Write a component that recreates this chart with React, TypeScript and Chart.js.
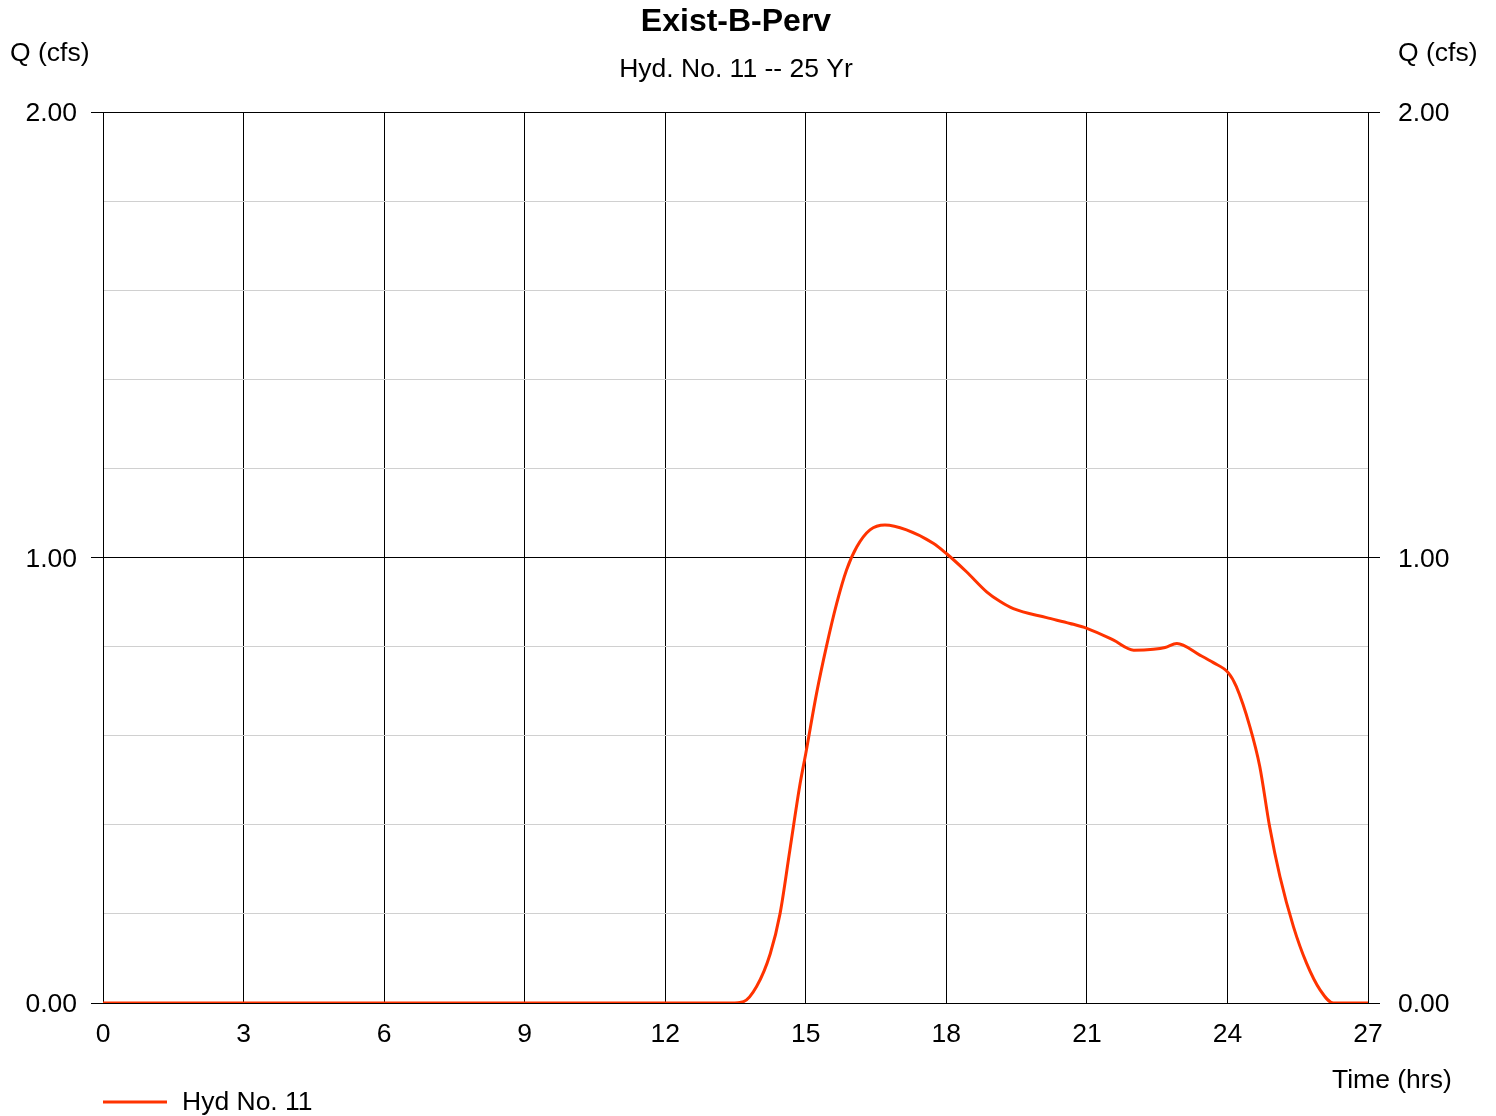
import React, { useEffect, useRef } from "react";
import { Chart, registerables } from "chart.js";

Chart.register(...registerables);

const chartTitle = "Exist-B-Perv";
const chartSubtitle = "Hyd. No. 11 -- 25 Yr";
const yAxisTitle = "Q (cfs)";
const xAxisTitle = "Time (hrs)";
const seriesLabel = "Hyd No. 11";

const timeHrs = [
  0, 13.4, 13.67, 13.95, 14.24, 14.45, 14.66, 14.88, 15.0, 15.23, 15.44, 15.66, 15.87, 16.09,
  16.37, 16.69, 17.15, 17.72, 18.0, 18.43, 18.86, 19.15, 19.43, 20.14, 20.64, 21.0, 21.56,
  22.0, 22.42, 22.67, 22.92, 23.41, 23.7, 24.02, 24.19, 24.48, 24.69, 24.9, 25.12, 25.41,
  25.69, 25.98, 26.26, 27,
];
const flowCfs = [
  0, 0, 0.003, 0.037, 0.11, 0.2, 0.343, 0.493, 0.56, 0.695, 0.8, 0.897, 0.972, 1.024,
  1.062, 1.073, 1.062, 1.032, 1.009, 0.968, 0.923, 0.901, 0.885, 0.865, 0.852, 0.841, 0.815,
  0.792, 0.794, 0.798, 0.807, 0.781, 0.764, 0.741, 0.71, 0.62, 0.531, 0.396, 0.284, 0.171,
  0.089, 0.029, 0, 0,
];

const xMin = 0;
const xMax = 27;
const xStep = 3;
const yMin = 0;
const yMax = 2;
const yStep = 0.2;

const FONT = '"Liberation Sans", Arial, Helvetica, sans-serif';
const LINE_COLOR = "#ff3300";

const isMajor = (v: number) => Math.abs(v - Math.round(v)) < 1e-6;

export default function App() {
  const ref = useRef<HTMLCanvasElement | null>(null);

  useEffect(() => {
    if (!ref.current) return;
    const textPlugin = {
      id: "textPlugin",
      afterDraw(chart: any) {
        const ctx = chart.ctx as CanvasRenderingContext2D;
        ctx.save();
        ctx.fillStyle = "#000";
        ctx.textBaseline = "middle";
        ctx.textAlign = "center";
        ctx.font = `bold 32px ${FONT}`;
        ctx.fillText(chartTitle, 736, 22);
        ctx.font = `26.5px ${FONT}`;
        ctx.fillText(chartSubtitle, 736, 70);
        ctx.textAlign = "left";
        ctx.fillText(yAxisTitle, 10, 54);
        ctx.fillText(yAxisTitle, 1398, 54);
        ctx.fillText(xAxisTitle, 1332, 1081);
        ctx.fillText(seriesLabel, 182, 1103);
        ctx.strokeStyle = LINE_COLOR;
        ctx.lineWidth = 3;
        ctx.beginPath();
        ctx.moveTo(103, 1102);
        ctx.lineTo(167, 1102);
        ctx.stroke();
        ctx.restore();
      },
    };

    const chart = new Chart(ref.current, {
      type: "line",
      data: {
        datasets: [
          {
            label: seriesLabel,
            data: timeHrs.map((t, i) => ({ x: t, y: flowCfs[i] })),
            borderColor: LINE_COLOR,
            borderWidth: 3,
            pointRadius: 0,
            fill: false,
            cubicInterpolationMode: "monotone",
          },
        ],
      },
      options: {
        responsive: false,
        animation: false,
        devicePixelRatio: 1,
        layout: { padding: { top: 112, left: 0, right: 0, bottom: 0 } },
        plugins: {
          legend: { display: false },
          title: { display: false },
          tooltip: { enabled: false },
        },
        scales: {
          x: {
            type: "linear",
            min: xMin,
            max: xMax,
            border: { display: true, color: "#000" },
            grid: { color: "#000", lineWidth: 1, drawTicks: false },
            ticks: {
              stepSize: xStep,
              autoSkip: false,
              maxRotation: 0,
              padding: 16,
              color: "#000",
              font: { family: FONT, size: 26.5 },
            },
            afterFit(scale: any) {
              scale.height = 113;
            },
          },
          y: {
            type: "linear",
            position: "left",
            min: yMin,
            max: yMax,
            border: { display: true, color: "#000" },
            grid: {
              color: (c: any) => (isMajor(c.tick.value) ? "#000" : "#d0d0d0"),
              tickColor: (c: any) => (isMajor(c.tick.value) ? "#000" : "rgba(0,0,0,0)"),
              lineWidth: 1,
              tickLength: 12,
            },
            ticks: {
              stepSize: yStep,
              autoSkip: false,
              padding: 14,
              labelOffset: 2,
              color: "#000",
              font: { family: FONT, size: 26.5 },
              callback: (v: any) => (isMajor(Number(v)) ? Number(v).toFixed(2) : ""),
            },
            afterFit(scale: any) {
              scale.width = 103;
            },
          },
          y2: {
            type: "linear",
            position: "right",
            min: yMin,
            max: yMax,
            border: { display: true, color: "#000" },
            grid: {
              drawOnChartArea: false,
              tickColor: (c: any) => (isMajor(c.tick.value) ? "#000" : "rgba(0,0,0,0)"),
              lineWidth: 1,
              tickLength: 12,
            },
            ticks: {
              stepSize: yStep,
              autoSkip: false,
              padding: 18,
              labelOffset: 2,
              color: "#000",
              font: { family: FONT, size: 26.5 },
              callback: (v: any) => (isMajor(Number(v)) ? Number(v).toFixed(2) : ""),
            },
            afterFit(scale: any) {
              scale.width = 128;
            },
          },
        },
      },
      plugins: [textPlugin],
    } as any);
    return () => chart.destroy();
  }, []);

  return (
    <div style={{ position: "absolute", left: 0, top: 0, width: 1496, height: 1116, background: "#fff" }}>
      <canvas ref={ref} width={1496} height={1116} style={{ display: "block" }} />
    </div>
  );
}
